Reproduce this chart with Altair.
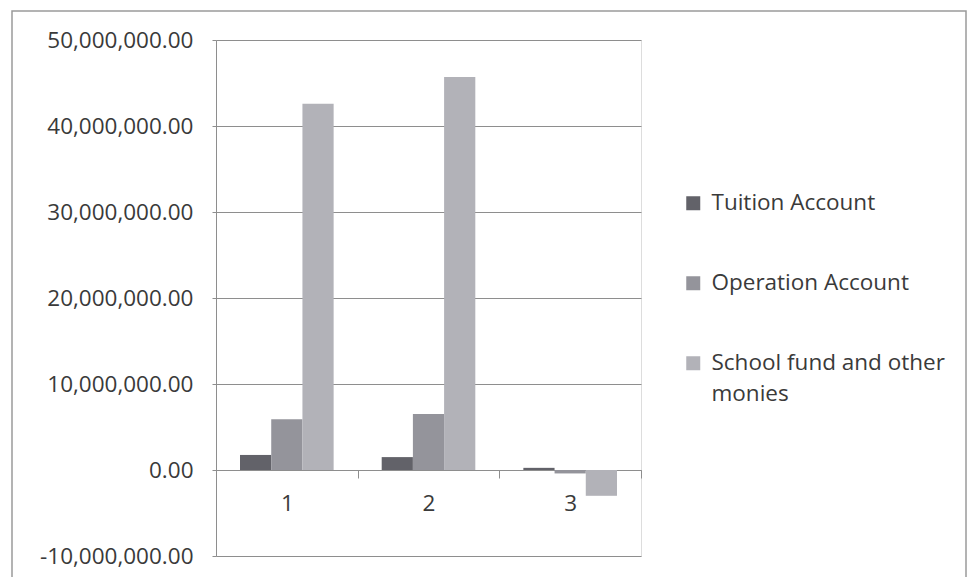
import altair as alt
import pandas as pd

categories = ["1", "2", "3"]
series_names = ["Tuition Account", "Operation Account", "School fund and other monies"]
tuition = [1750000, 1500000, 250000]
operation = [5900000, 6500000, -400000]
school = [42600000, 45700000, -3000000]
colors = ["#626269", "#94949b", "#b2b2b8"]
y_ticks = [-10000000, 0, 10000000, 20000000, 30000000, 40000000, 50000000]

rows = []
for i, c in enumerate(categories):
    for name, vals in zip(series_names, [tuition, operation, school]):
        rows.append({"cat": c, "series": name, "value": vals[i]})
df = pd.DataFrame(rows)

W, H = 425, 516
FONT = "Open Sans"
FS = 22.5
TXT = "#3a3a3a"
GRID = "#8e8e8e"

bars = alt.Chart(df).mark_bar().encode(
    x=alt.X("cat:N", sort=categories, title=None,
            scale=alt.Scale(paddingInner=0, paddingOuter=0),
            axis=alt.Axis(orient="bottom", offset=-86, labelAngle=0,
                          tickBand="extent", tickSize=8, tickColor=GRID,
                          domainColor=GRID, labelFont=FONT, labelFontSize=FS,
                          labelColor=TXT, labelPadding=14, grid=False)),
    xOffset=alt.XOffset("series:N", sort=series_names,
                        scale=alt.Scale(paddingInner=0, paddingOuter=0.77)),
    y=alt.Y("value:Q", title=None,
            scale=alt.Scale(domain=[-10000000, 50000000], nice=False),
            axis=alt.Axis(values=y_ticks, grid=True, gridColor=GRID,
                          domainColor=GRID, tickColor=GRID, tickSize=4,
                          labelFont=FONT, labelFontSize=FS, labelColor=TXT,
                          labelPadding=19,
                          labelExpr="replace(format(datum.value, ',.2f'), '\u2212', '-')")),
    color=alt.Color("series:N", sort=series_names,
                    scale=alt.Scale(domain=series_names, range=colors),
                    legend=alt.Legend(title=None, orient="none",
                                      legendX=466, legendY=152,
                                      symbolType="square", symbolSize=196,
                                      symbolStrokeWidth=0, labelFont=FONT,
                                      labelFontSize=FS, labelColor=TXT,
                                      labelOffset=7, rowPadding=57, padding=0,
                                      labelLimit=400,
                                      labelExpr="datum.label == 'School fund and other monies' ? ['School fund and other', 'monies'] : datum.label")),
)

frame = alt.Chart(pd.DataFrame({"k": [0]})).mark_rect(
    fill=None, stroke="#9a9a9a", strokeWidth=1.5
).encode(
    x=alt.value(-204), x2=alt.value(W + 325),
    y=alt.value(-29), y2=alt.value(H + 40),
)

chart = alt.layer(frame, bars).properties(
    width=W, height=H,
    padding={"left": 216, "top": 40, "right": 327, "bottom": 21},
    autosize=alt.AutoSizeParams(type="none"),
    background="white",
).configure_view(stroke=None).configure(
    style={"guide-label": {"lineHeight": 31}}
)

chart.save("out.html", embed_options={"renderer": "svg", "actions": False})
